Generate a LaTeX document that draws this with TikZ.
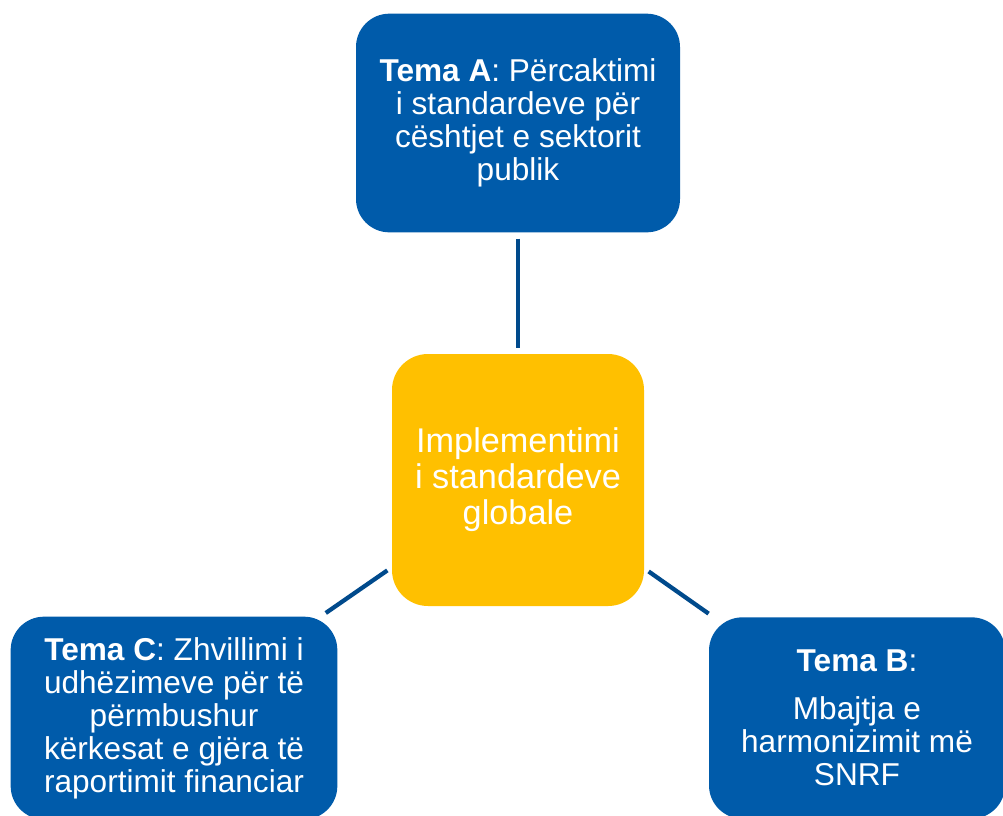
\documentclass[tikz,border=0pt]{standalone}
\usepackage{fontspec}
\setmainfont{Liberation Sans}
\definecolor{boxblue}{RGB}{0,91,170}
\definecolor{linkblue}{RGB}{0,74,140}
\definecolor{hubyellow}{RGB}{255,192,0}
\begin{document}
\begin{tikzpicture}[x=0.75pt,y=-0.75pt,
  topic/.style={fill=boxblue,rounded corners=25pt,text=white,align=center,inner sep=0pt,
    font=\fontsize{23.7}{24.75}\selectfont},
  hub/.style={fill=hubyellow,rounded corners=27pt,text=white,align=center,inner sep=0pt,
    minimum width=189pt,minimum height=189pt,font=\fontsize{25.7}{27}\selectfont},
  link/.style={draw=linkblue,line width=3.2pt,shorten <=4.5pt,shorten >=4pt}]
\useasboundingbox (0,0) rectangle (1003,815);
\node[topic,minimum width=243pt,minimum height=164pt] (A) at (518,123)
  {\textbf{Tema A}: Përcaktimi\\i standardeve për\\cështjet e sektorit\\publik};
\node[hub] (H) at (518,480) {Implementimi\\i standardeve\\globale};
\node[topic,minimum width=245pt,minimum height=152pt] (C) at (174,718)
  {\textbf{Tema C}: Zhvillimi i\\udhëzimeve për të\\përmbushur\\kërkesat e gjëra të\\raportimit financiar};
\node[topic,minimum width=222pt,minimum height=151pt] (B) at (857,718)
  {\textbf{Tema B}:\\[11pt]Mbajtja e\\harmonizimit më\\SNRF};
\draw[link] (A) -- (H);
\draw[link] (C) -- (H);
\draw[link] (B) -- (H);
\end{tikzpicture}
\end{document}
